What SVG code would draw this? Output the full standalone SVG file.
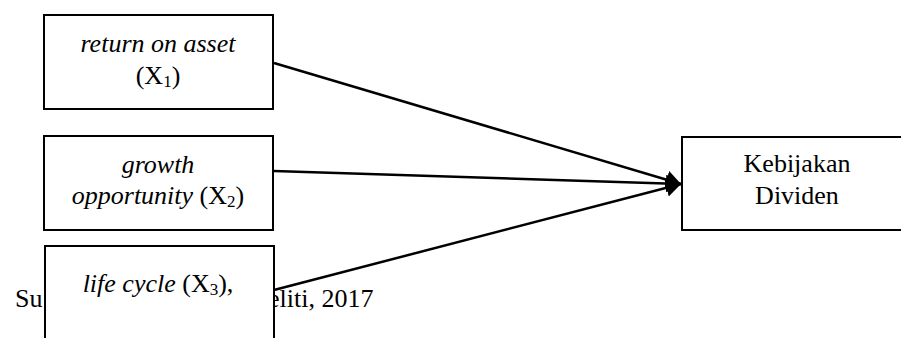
<svg xmlns="http://www.w3.org/2000/svg" width="901" height="338" viewBox="0 0 901 338">
<style>
.box{fill:#fff;stroke:#000;stroke-width:2}
.t{font-family:"Liberation Serif","Times New Roman",serif;font-size:26px;fill:#000}
.i{font-style:italic}
.sub{font-size:17px}
.edge{stroke:#000;stroke-width:2.5;fill:none}
</style>
<defs>
<marker id="ah" markerUnits="userSpaceOnUse" markerWidth="16" markerHeight="18" refX="15" refY="9" orient="auto">
<path d="M0,0 L15,9 L0,18 Z" fill="#000"/>
</marker>
</defs>
<text class="t" x="15" y="307">Su</text>
<text class="t" x="268" y="307">eliti, 2017</text>
<g id="connectors">
<line class="edge" x1="274" y1="63" x2="681" y2="184" marker-end="url(#ah)"/>
<line class="edge" x1="274" y1="171" x2="681" y2="184" marker-end="url(#ah)"/>
<line class="edge" x1="274" y1="290" x2="681" y2="184" marker-end="url(#ah)"/>
</g>
<g id="roa">
<rect class="box" x="44" y="15" width="229" height="94"/>
<text class="t" x="158" y="52" text-anchor="middle"><tspan class="i">return on asset</tspan></text>
<text class="t" x="158" y="84" text-anchor="middle">(X<tspan class="sub" dy="3">1</tspan><tspan dy="-3">)</tspan></text>
</g>
<g id="growth">
<rect class="box" x="44" y="136" width="229" height="94"/>
<text class="t i" x="158" y="173" text-anchor="middle">growth</text>
<text class="t" x="158" y="204" text-anchor="middle"><tspan class="i">opportunity</tspan> (X<tspan class="sub" dy="3">2</tspan><tspan dy="-3">)</tspan></text>
</g>
<g id="lifecycle">
<rect class="box" x="45" y="246" width="229" height="110"/>
<text class="t" x="158" y="292" text-anchor="middle"><tspan class="i">life cycle</tspan> (X<tspan class="sub" dy="3">3</tspan><tspan dy="-3">),</tspan></text>
</g>
<g id="kebijakan">
<rect class="box" x="682" y="137" width="240" height="93"/>
<text class="t" x="797" y="172" text-anchor="middle">Kebijakan</text>
<text class="t" x="797" y="204" text-anchor="middle">Dividen</text>
</g>
</svg>
